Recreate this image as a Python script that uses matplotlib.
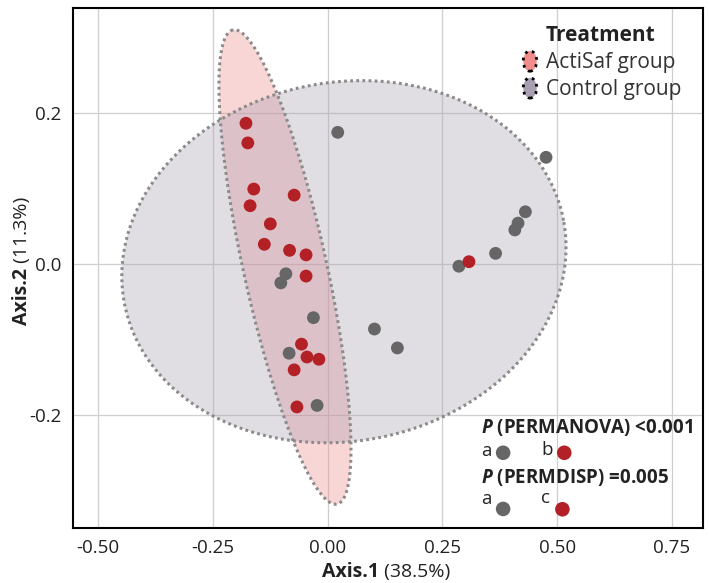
import numpy as np
import matplotlib
matplotlib.use("Agg")
import matplotlib.pyplot as plt
import matplotlib.patches as mpatches
from matplotlib.legend_handler import HandlerPatch

plt.rcParams['font.family'] = ['Open Sans', 'DejaVu Sans']
plt.rcParams['mathtext.fontset'] = 'custom'
plt.rcParams['mathtext.rm'] = 'Open Sans'
plt.rcParams['mathtext.bf'] = 'Open Sans:bold'
plt.rcParams['mathtext.it'] = 'Open Sans:italic'
try:
    plt.rcParams['mathtext.bfit'] = 'Open Sans:italic:bold'
except KeyError:
    pass

# PCoA scores
acti_x = [-0.178, -0.174, -0.161, -0.073, -0.169, -0.125, -0.138, -0.083,
          -0.047, -0.047, -0.057, -0.045, -0.019, -0.073, -0.067, 0.308]
acti_y = [0.186, 0.160, 0.099, 0.091, 0.077, 0.053, 0.026, 0.018,
          0.012, -0.016, -0.106, -0.123, -0.126, -0.140, -0.189, 0.003]
ctrl_x = [0.022, -0.091, -0.102, -0.031, 0.102, 0.152, -0.084, -0.023,
          0.476, 0.431, 0.415, 0.408, 0.366, 0.286]
ctrl_y = [0.174, -0.013, -0.025, -0.071, -0.086, -0.111, -0.118, -0.187,
          0.141, 0.069, 0.054, 0.045, 0.014, -0.003]

# ellipses: centre, semi-axes (x units), angle on screen
acti_ell = dict(cx=-0.093, cy=-0.004, a=0.529, b=0.0905, angle=102.4)
ctrl_ell = dict(cx=0.0355, cy=0.003, a=0.487, b=0.391, angle=10.6)

groups = ["ActiSaf group", "Control group"]
x_ticks = [-0.50, -0.25, 0.00, 0.25, 0.50, 0.75]
x_labels = ["-0.50", "-0.25", "0.00", "0.25", "0.50", "0.75"]
y_ticks = [-0.2, 0.0, 0.2]
y_labels = ["-0.2", "0.0", "0.2"]

red = "#b32025"
grey = "#666666"
pink_fill = "#f08c8c"
grey_fill = "#a89fb0"
txt = "#222222"

fig = plt.figure(figsize=(7.09, 5.83), dpi=100)
ax = fig.add_axes([0.1023, 0.0949, 0.8892, 0.8922])
ax.set_xlim(-0.556, 0.818)
ax.set_ylim(-0.3486, 0.339)

# screen aspect so that the ellipse angles come out right
bb = ax.get_position()
W = bb.width * fig.get_figwidth()
H = bb.height * fig.get_figheight()
ratio = (H / (0.339 + 0.3486)) / (W / (0.818 + 0.556))


def ellipse_xy(cx, cy, a, b, angle):
    t = np.linspace(0, 2 * np.pi, 500)
    u = a * np.cos(t)
    v = b * np.sin(t)
    th = np.deg2rad(angle)
    X = u * np.cos(th) - v * np.sin(th)
    Y = u * np.sin(th) + v * np.cos(th)
    return cx + X, cy + Y / ratio


for ell, fc in [(acti_ell, pink_fill), (ctrl_ell, grey_fill)]:
    ex, ey = ellipse_xy(**ell)
    ax.fill(ex, ey, facecolor=fc, alpha=0.35, edgecolor="none", zorder=1)
    ax.plot(ex, ey, color="#8a8a8a", lw=2.2, ls=(0, (0.9, 1.1)), zorder=2)

ax.scatter(ctrl_x, ctrl_y, s=85, color=grey, edgecolor="none", zorder=3)
ax.scatter(acti_x, acti_y, s=85, color=red, edgecolor="none", zorder=4)

ax.set_xticks(x_ticks)
ax.set_xticklabels(x_labels)
ax.set_yticks(y_ticks)
ax.set_yticklabels(y_labels)
ax.tick_params(length=0, labelsize=13.5, labelcolor=txt)
ax.tick_params(axis="x", pad=8)
ax.tick_params(axis="y", pad=8)
ax.grid(True, color="#cfcfcf", lw=0.9)
ax.set_axisbelow(True)
for sp in ax.spines.values():
    sp.set_linewidth(1.5)
    sp.set_color("black")

# axis titles: bold name + regular percentage
fig.text(0.5345, 0.0105, "Axis.1", fontsize=14, fontweight="bold", color=txt,
         ha="right", va="baseline")
fig.text(0.5345, 0.0105, " (38.5%)", fontsize=14, color=txt,
         ha="left", va="baseline")
ax.text(-0.072, 0.499, "Axis.2", transform=ax.transAxes, fontsize=14,
        fontweight="bold", color=txt, rotation=90, rotation_mode="anchor",
        ha="right", va="baseline")
ax.text(-0.072, 0.499, " (11.3%)", transform=ax.transAxes, fontsize=14,
        color=txt, rotation=90, rotation_mode="anchor",
        ha="left", va="baseline")


class HandlerEllipse(HandlerPatch):
    def create_artists(self, legend, orig_handle, xdescent, ydescent,
                       width, height, fontsize, trans):
        center = 0.5 * width - xdescent, 0.5 * height - ydescent
        p = mpatches.Ellipse(xy=center, width=0.72 * width, height=0.95 * height)
        self.update_prop(p, orig_handle, legend)
        p.set_transform(trans)
        return [p]


handles = [mpatches.Patch(facecolor=pink_fill, edgecolor="black", lw=2, ls=":"),
           mpatches.Patch(facecolor=grey_fill, edgecolor="black", lw=2, ls=":")]
leg = ax.legend(handles, groups, title="Treatment", loc="upper right",
                bbox_to_anchor=(0.985, 0.99), frameon=False, fontsize=15,
                title_fontproperties={"weight": "bold", "size": 15},
                handler_map={mpatches.Patch: HandlerEllipse()},
                handlelength=0.9, handleheight=1.2, handletextpad=0.3,
                labelspacing=0.2, borderaxespad=0.2)
for t in leg.get_texts():
    t.set_color("#333333")
leg.get_title().set_color(txt)

# statistics annotation
tr = ax.transAxes
ax.text(0.648, 0.192, r"$\mathbfit{P}$ (PERMANOVA) <0.001", transform=tr,
        fontsize=13.5, fontweight="bold", va="center", ha="left", color=txt)
ax.text(0.648, 0.147, "a", transform=tr, fontsize=13.5, va="center", color=txt)
ax.text(0.743, 0.150, "b", transform=tr, fontsize=13.5, va="center", color=txt)
ax.text(0.648, 0.0955, r"$\mathbfit{P}$ (PERMDISP) =0.005", transform=tr,
        fontsize=13.5, fontweight="bold", va="center", ha="left", color=txt)
ax.text(0.648, 0.055, "a", transform=tr, fontsize=13.5, va="center", color=txt)
ax.text(0.743, 0.058, "c", transform=tr, fontsize=13.5, va="center", color=txt)
ax.scatter([0.683, 0.683], [0.144, 0.036], s=110, color=grey, transform=tr, zorder=5,
           edgecolor="none", clip_on=False)
ax.scatter([0.780, 0.777], [0.144, 0.0354], s=110, color=red, transform=tr, zorder=5,
           edgecolor="none", clip_on=False)

fig.savefig("out.png", dpi=100)
